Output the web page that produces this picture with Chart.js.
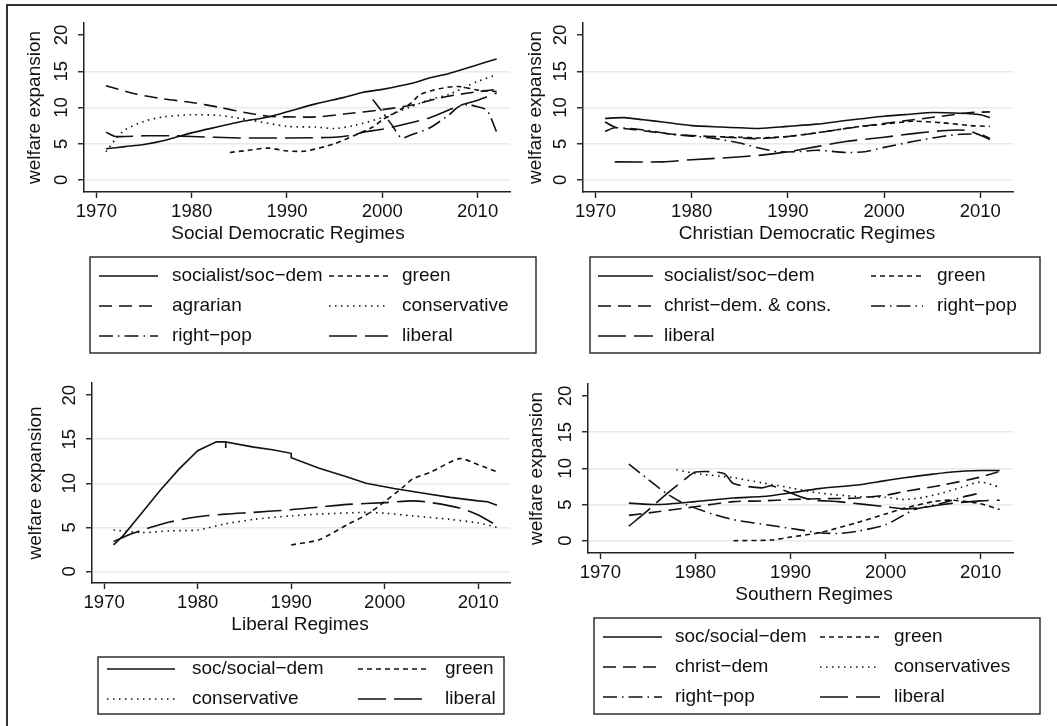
<!DOCTYPE html>
<html>
<head>
<meta charset="utf-8">
<title>welfare expansion by regime</title>
<script src="https://cdn.jsdelivr.net/npm/chart.js@4.4.1/dist/chart.umd.min.js"></script>
<style>
  html, body { margin: 0; padding: 0; background: #fff; width: 1057px; height: 726px; overflow: hidden; }
  #frame { position: absolute; left: 6px; top: 4px; width: 1200px; height: 1000px; border: 2px solid #333; }
  canvas { position: absolute; }
</style>
</head>
<body>
<div id="frame"></div>
<canvas id="p1" width="545" height="363" style="left:0;top:0"></canvas>
<canvas id="p2" width="537" height="363" style="left:520px;top:0"></canvas>
<canvas id="p3" width="528" height="363" style="left:0;top:363px"></canvas>
<canvas id="p4" width="537" height="363" style="left:520px;top:363px"></canvas>
<script>
// tick labels
const xTicks = [1970, 1980, 1990, 2000, 2010];
const yTicks = [0, 5, 10, 15, 20];

// Social Democratic Regimes  [year, value]
const sdSocialist = [[1971,4.3],[1973,4.6],[1975,4.9],[1977,5.4],[1980,6.5],[1983,7.4],[1985,8.0],[1988,8.7],[1990,9.4],[1993,10.5],[1996,11.4],[1998,12.1],[2000,12.5],[2003,13.3],[2005,14.1],[2007,14.7],[2010,15.9],[2012,16.7]];
const sdGreen = [[1984,3.8],[1986,4.1],[1988,4.4],[1990,4.0],[1992,4.0],[1995,5.0],[1997,6.1],[1999,7.3],[2000,8.3],[2001,9.0],[2002,9.8],[2003,10.6],[2004,11.8],[2006,12.6],[2008,12.9],[2010,12.4],[2012,12.2]];
const sdAgrarian = [[1971,13.0],[1974,11.9],[1977,11.2],[1980,10.7],[1983,10.0],[1986,9.2],[1988,8.8],[1990,8.7],[1993,8.7],[1996,9.1],[2000,9.7],[2003,10.3],[2006,11.3],[2009,12.0],[2012,12.5]];
const sdConservative = [[1971,3.9],[1972,5.6],[1973,6.9],[1975,8.1],[1977,8.7],[1980,9.0],[1983,8.9],[1986,8.3],[1990,7.4],[1993,7.3],[1995,7.1],[1997,7.5],[2000,8.6],[2003,10.1],[2005,11.1],[2007,11.8],[2010,13.6],[2012,14.5]];
const sdRightpop = [[1999,11.1],[2000,9.4],[2001,7.6],[2002,5.8],[2003,6.2],[2005,7.2],[2007,9.0],[2008,10.1],[2009,10.4],[2010,10.1],[2011,9.6],[2012,6.6]];
const sdLiberal = [[1971,6.6],[1972,6.0],[1975,6.1],[1978,6.1],[1980,6.0],[1985,5.8],[1990,5.8],[1995,5.9],[1997,6.2],[1998,6.6],[2000,7.0],[2003,7.9],[2005,8.6],[2008,10.2],[2010,11.0],[2012,12.0]];

// Christian Democratic Regimes
const cdSocialist = [[1971,8.5],[1973,8.6],[1975,8.3],[1977,8.0],[1980,7.5],[1983,7.3],[1985,7.2],[1987,7.1],[1990,7.4],[1993,7.7],[1996,8.2],[2000,8.8],[2003,9.1],[2005,9.3],[2008,9.2],[2010,9.0],[2011,8.6]];
const cdGreen = [[1982,6.0],[1985,5.9],[1987,5.8],[1990,6.0],[1994,6.7],[1997,7.3],[2000,7.7],[2003,8.1],[2006,7.9],[2009,7.5],[2011,7.4]];
const cdChristdem = [[1971,8.0],[1972,7.3],[1975,6.8],[1978,6.3],[1982,6.0],[1985,5.8],[1987,5.7],[1990,6.0],[1993,6.5],[1996,7.1],[2000,7.8],[2003,8.3],[2006,8.8],[2009,9.3],[2011,9.4]];
const cdRightpop = [[1971,6.7],[1972,7.2],[1975,6.9],[1978,6.3],[1982,5.8],[1985,5.1],[1987,4.4],[1989,3.9],[1991,3.9],[1993,4.1],[1996,3.8],[1998,3.9],[2000,4.5],[2003,5.3],[2006,6.0],[2008,6.3],[2010,6.3],[2011,5.7]];
const cdLiberal = [[1972,2.5],[1977,2.5],[1980,2.8],[1984,3.1],[1987,3.4],[1990,3.9],[1993,4.6],[1996,5.3],[2000,5.9],[2003,6.4],[2006,6.8],[2008,6.9],[2009,6.7],[2011,5.6]];

// Liberal Regimes
const libSocialist = [[1971,3.0],[1972,4.0],[1974,6.6],[1976,9.2],[1978,11.6],[1980,13.7],[1982,14.7],[1983,14.7],[1983,14.0],[1983,14.7],[1986,14.1],[1988,13.8],[1990,13.4],[1990,12.9],[1993,11.7],[1996,10.7],[1998,10.0],[2001,9.4],[2004,8.9],[2007,8.4],[2010,8.0],[2011,7.9],[2012,7.5]];
const libGreen = [[1990,3.0],[1993,3.6],[1996,5.3],[1998,6.4],[2000,7.9],[2002,9.6],[2003,10.5],[2005,11.3],[2008,12.8],[2010,12.1],[2012,11.3]];
const libConservative = [[1971,4.7],[1974,4.4],[1977,4.6],[1980,4.7],[1983,5.4],[1986,5.9],[1990,6.3],[1993,6.5],[1998,6.7],[2000,6.6],[2003,6.3],[2007,5.9],[2010,5.5],[2012,5.0]];
const libLiberal = [[1971,3.4],[1973,4.3],[1975,5.0],[1977,5.6],[1980,6.2],[1983,6.5],[1986,6.7],[1990,7.0],[1993,7.3],[1996,7.6],[2000,7.8],[2003,8.0],[2005,7.8],[2008,7.2],[2010,6.4],[2012,5.2]];

// Southern Regimes
const soSocialist = [[1973,5.2],[1976,5.0],[1980,5.4],[1984,5.9],[1987,6.1],[1990,6.6],[1993,7.2],[1997,7.7],[2000,8.3],[2002,8.7],[2005,9.2],[2007,9.5],[2010,9.7],[2012,9.7]];
const soGreen = [[1984,0.0],[1988,0.1],[1990,0.5],[1993,1.1],[1997,2.5],[2000,3.7],[2002,4.5],[2005,5.4],[2007,5.6],[2010,5.1],[2012,4.3]];
const soChristdem = [[1973,3.5],[1976,4.0],[1980,4.7],[1984,5.4],[1987,5.5],[1990,5.7],[1993,5.8],[1997,5.9],[2000,6.3],[2002,6.8],[2006,7.7],[2010,8.8],[2012,9.6]];
const soConservatives = [[1978,9.8],[1980,9.3],[1984,8.7],[1987,8.0],[1990,7.3],[1993,6.6],[1997,6.1],[2000,6.0],[2002,5.7],[2004,6.0],[2006,6.6],[2008,7.4],[2010,8.1],[2012,7.4]];
const soRightpop = [[1973,10.6],[1975,8.5],[1977,6.5],[1979,5.0],[1982,3.6],[1984,2.9],[1988,2.1],[1991,1.5],[1993,1.1],[1995,1.0],[1997,1.3],[2000,2.2],[2002,3.6],[2003,4.3],[2006,5.2],[2008,6.0],[2010,6.6]];
const soLiberal = [[1973,2.0],[1975,4.2],[1977,6.5],[1979,8.6],[1980,9.5],[1983,9.3],[1984,7.9],[1987,7.3],[1988,7.6],[1990,6.6],[1992,5.7],[1995,5.4],[2000,4.7],[2002,4.4],[2004,4.6],[2006,5.0],[2008,5.3],[2010,5.5],[2012,5.6]];

// line patterns (stata-ish)
const SOLID = [], SHORTDASH = [5, 4], DASH = [13, 7], DOT = [1.5, 4.5], DASHDOT = [14, 5, 1.5, 5], LONGDASH = [28, 8];

const FONT = '"Liberation Sans", Arial, sans-serif';
const tickFont = { family: FONT, size: 18.5, lineHeight: 1.2 };
const titleFont = { family: FONT, size: 19, lineHeight: 1.2 };

// x title + boxed two-column legend under each panel
const panelText = {
  id: "panelText",
  afterDraw(chart, args, opts) {
    const ctx = chart.ctx;
    ctx.save();
    ctx.font = '19px ' + FONT;
    ctx.fillStyle = "#111";
    ctx.textBaseline = "middle";
    ctx.textAlign = "center";
    ctx.fillText(opts.title, opts.titleX, chart.chartArea.bottom + 42);

    ctx.setLineDash([]);
    ctx.lineWidth = 1.4;
    ctx.strokeStyle = "#222";
    ctx.strokeRect(opts.box[0], opts.box[1], opts.box[2] - opts.box[0], opts.box[3] - opts.box[1]);
    ctx.textAlign = "left";
    chart.data.datasets.forEach((ds, i) => {
      const col = opts.cols[i % 2];
      const y = opts.rows[Math.floor(i / 2)];
      ctx.beginPath();
      ctx.setLineDash(ds.borderDash);
      ctx.lineWidth = ds.borderWidth;
      ctx.strokeStyle = ds.borderColor;
      ctx.moveTo(col[0], y);
      ctx.lineTo(col[1], y);
      ctx.stroke();
      ctx.setLineDash([]);
      ctx.fillText(ds.label, col[2], y);
    });
    ctx.restore();
  },
};

function makePanel(id, cfg) {
  const canvas = document.getElementById(id);
  const W = canvas.width, H = canvas.height;
  const a = cfg.area; // plot area: left, top, right, bottom
  const wy = cfg.yTitleGap + 11.4;
  const hx = 53;

  new Chart(canvas, {
    type: "line",
    data: {
      datasets: cfg.series.map((s) => ({
        label: s[0],
        data: s[1].map((p) => ({ x: p[0], y: p[1] })),
        borderDash: s[2],
        borderColor: "#111",
        borderWidth: 1.6,
        pointRadius: 0,
        tension: s[3] === undefined ? 0.25 : s[3],
        fill: false,
      })),
    },
    options: {
      responsive: false,
      animation: false,
      devicePixelRatio: 1,
      layout: { padding: { left: a[0] - wy, top: a[1], right: W - a[2], bottom: H - a[3] - hx } },
      plugins: {
        legend: { display: false },
        tooltip: { enabled: false },
        panelText: Object.assign({ title: cfg.xTitle, titleX: cfg.xTitleX }, cfg.legend),
      },
      scales: {
        x: {
          type: "linear",
          min: 1968.7,
          max: 2013.4,
          afterBuildTicks: (s) => { s.ticks = xTicks.map((v) => ({ value: v })); },
          afterFit: (s) => { s.height = hx; },
          grid: { drawOnChartArea: false, tickLength: 6, tickColor: "#222", tickWidth: 1.4 },
          border: { color: "#222", width: 1.5 },
          ticks: { font: tickFont, color: "#111", padding: 3, maxRotation: 0, callback: (v) => String(v) },
        },
        y: {
          min: cfg.yMin,
          max: cfg.yMax,
          afterBuildTicks: (s) => { s.ticks = yTicks.map((v) => ({ value: v })); },
          afterFit: (s) => { s.width = wy; },
          grid: {
            color: (c) => (c.tick && c.tick.value === 20 ? "rgba(0,0,0,0)" : "#e3ecef"),
            lineWidth: 1.5,
            tickLength: 6,
            tickColor: "#222",
            tickWidth: 1.4,
          },
          border: { color: "#222", width: 1.5 },
          ticks: { font: tickFont, color: "#111", padding: 6, minRotation: 90, maxRotation: 90, crossAlign: "center", callback: (v) => String(v) },
          title: { display: true, text: "welfare expansion", font: titleFont, color: "#111", padding: { top: 0, bottom: 0 } },
        },
      },
    },
    plugins: [panelText],
  });
}

makePanel("p1", {
  area: [84, 23, 510, 192], yMin: -1.66, yMax: 21.66, yTitleGap: 49.5,
  xTitle: "Social Democratic Regimes", xTitleX: 288,
  series: [
    ["socialist/soc\u2212dem", sdSocialist, SOLID],
    ["green", sdGreen, SHORTDASH],
    ["agrarian", sdAgrarian, DASH],
    ["conservative", sdConservative, DOT],
    ["right\u2212pop", sdRightpop, DASHDOT],
    ["liberal", sdLiberal, LONGDASH],
  ],
  legend: { box: [90, 257, 536, 353], rows: [276, 306, 336], cols: [[99, 158, 172], [329, 388, 402]] },
});

makePanel("p2", {
  area: [63, 23, 493, 192], yMin: -1.66, yMax: 21.66, yTitleGap: 47,
  xTitle: "Christian Democratic Regimes", xTitleX: 287,
  series: [
    ["socialist/soc\u2212dem", cdSocialist, SOLID],
    ["green", cdGreen, SHORTDASH],
    ["christ\u2212dem. & cons.", cdChristdem, DASH],
    ["right\u2212pop", cdRightpop, DASHDOT],
    ["liberal", cdLiberal, LONGDASH],
  ],
  legend: { box: [70, 257, 520, 353], rows: [276, 306, 336], cols: [[78, 133, 144], [351, 403, 417]] },
});

makePanel("p3", {
  area: [92, 20, 510, 220], yMin: -1.32, yMax: 21.38, yTitleGap: 56,
  xTitle: "Liberal Regimes", xTitleX: 300,
  series: [
    ["soc/social\u2212dem", libSocialist, SOLID, 0],
    ["green", libGreen, SHORTDASH],
    ["conservative", libConservative, DOT],
    ["liberal", libLiberal, LONGDASH],
  ],
  legend: { box: [98, 294, 504, 351], rows: [306, 336], cols: [[107, 175, 192], [358, 428, 445]] },
});

makePanel("p4", {
  area: [68, 21, 493, 190], yMin: -1.7, yMax: 21.66, yTitleGap: 51,
  xTitle: "Southern Regimes", xTitleX: 294,
  series: [
    ["soc/social\u2212dem", soSocialist, SOLID],
    ["green", soGreen, SHORTDASH],
    ["christ\u2212dem", soChristdem, DASH],
    ["conservatives", soConservatives, DOT],
    ["right\u2212pop", soRightpop, DASHDOT],
    ["liberal", soLiberal, LONGDASH],
  ],
  legend: { box: [74, 255, 520, 351], rows: [274, 304, 334], cols: [[83, 142, 155], [300, 360, 374]] },
});
</script>
</body>
</html>
